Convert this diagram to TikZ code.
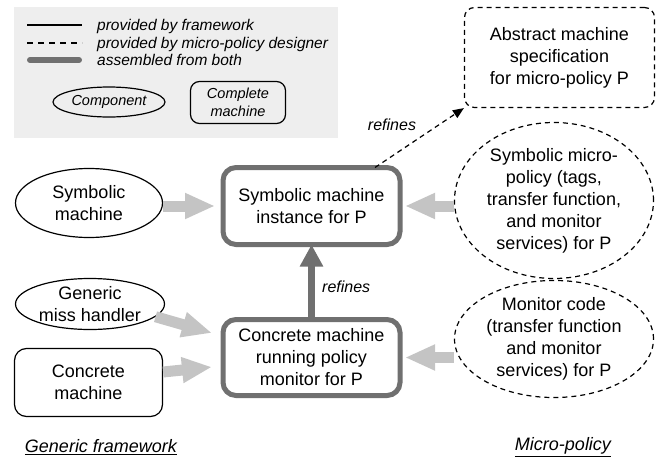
\documentclass[tikz,border=0pt]{standalone}
\usepackage{fontspec}
\newfontfamily\hv{Liberation Sans}
\usetikzlibrary{shapes.geometric,arrows.meta,calc}
\definecolor{legbg}{HTML}{EEEEEE}
\definecolor{dgray}{HTML}{707070}
\definecolor{lgray}{HTML}{C4C4C4}
\begin{document}
\begin{tikzpicture}[x=1pt,y=-1pt,
  txt/.style={font=\hv\fontsize{18}{22}\selectfont, align=center, inner sep=0pt},
  ltxt/.style={font=\hv\itshape\fontsize{15.5}{17.5}\selectfont, inner sep=0pt},
  lsmall/.style={font=\hv\itshape\fontsize{14.5}{17.5}\selectfont, inner sep=0pt, align=center},
  comp/.style={ellipse, draw, line width=1.2pt, txt},
  fwbox/.style={rectangle, rounded corners=12pt, draw, line width=1.2pt, txt},
  asmbox/.style={rectangle, rounded corners=13pt, draw=dgray, line width=5pt, fill=white, txt},
  mpdash/.style={dash pattern=on 5pt off 4pt},
  mpbox/.style={rectangle, rounded corners=10pt, draw, mpdash, line width=1.2pt, txt},
  mpell/.style={ellipse, draw, mpdash, line width=1.2pt, txt},
  feed/.style={lgray, line width=11pt, -{Triangle[width=24pt,length=30pt]}},
  refarrow/.style={dgray, line width=7pt, -{Triangle[width=22pt,length=22pt]}},
  dref/.style={black, line width=1.2pt, mpdash, -{Triangle[length=11pt,width=9pt]}},
  lbl/.style={font=\hv\itshape\fontsize{16}{19}\selectfont, inner sep=0pt},
  sect/.style={font=\hv\itshape\fontsize{18}{21}\selectfont, inner sep=0pt}
]
\useasboundingbox (0,0) rectangle (662,458);

% legend
\node[fill=legbg, inner sep=0pt, minimum width=324pt, minimum height=131pt, anchor=north west] (legend) at (14,7) {};
\coordinate (ls1) at (27,25); \coordinate (le1) at (82,25);
\coordinate (ls2) at (27,43); \coordinate (le2) at (82,43);
\coordinate (ls3) at (30,60); \coordinate (le3) at (79,60);
\draw[line width=1.2pt] (ls1) -- (le1);
\draw[line width=1.2pt, dash pattern=on 6pt off 5pt] (ls2) -- (le2);
\draw[dgray, line width=6pt, line cap=round] (ls3) -- (le3);
\node[ltxt, anchor=base west] (lt1) at (97,30) {provided by framework};
\node[ltxt, anchor=base west] (lt2) at (97,48) {provided by micro-policy designer};
\node[ltxt, anchor=base west] (lt3) at (97,65) {assembled from both};
\node[ellipse, draw, line width=1.2pt, lsmall, minimum width=112pt, minimum height=30pt] (legcomp) at (109,102) {Component};
\node[rectangle, draw, line width=1.2pt, rounded corners=9pt, lsmall, minimum width=95pt, minimum height=42pt] (legcm) at (238,102.5) {Complete\\machine};

% framework components
\node[comp, minimum width=147pt, minimum height=69pt] (symm) at (89,203) {Symbolic\\machine};
\node[comp, minimum width=149pt, minimum height=51pt] (miss) at (90,304) {Generic\\miss handler};
\node[fwbox, minimum width=148pt, minimum height=68pt] (conc) at (88.5,382.5) {Concrete\\machine};

% assembled machines
\node[asmbox, minimum width=177pt, minimum height=77pt] (inst) at (311.5,206) {Symbolic machine\\instance for P};
\node[asmbox, minimum width=177pt, minimum height=76pt] (run) at (311.5,357.5) {Concrete machine\\running policy\\monitor for P};

% micro-policy parts
\node[mpbox, minimum width=190pt, minimum height=100pt] (abs) at (559.5,57.5) {Abstract machine\\specification\\for micro-policy P};
\node[mpell, minimum width=199pt, minimum height=156pt] (symp) at (554,200.5) {Symbolic micro-\\policy (tags,\\transfer function,\\and monitor\\services) for P};
\node[mpell, minimum width=199pt, minimum height=91pt] (mon) at (554,339) {Monitor code\\(transfer function\\and monitor\\services) for P};

% feeding arrows
\draw[feed] (symm.east |- inst.west) -- ([xshift=-5.5pt]inst.west);
\draw[feed] (miss.-11) -- ([xshift=-8.5pt,yshift=24.5pt]run.west);
\draw[feed] ([yshift=10.5pt]conc.east) -- ([xshift=-8.5pt,yshift=-9.5pt]run.west);
\draw[feed] (symp.west |- inst.east) -- ([xshift=2.5pt]inst.east);
\draw[feed] (mon.west |- run.east) -- ([xshift=2.5pt]run.east);

% refinement arrows
\draw[refarrow, shorten >=-2.5pt] (run.north) -- (run.north |- inst.south);
\node[lbl, anchor=west] (ref1) at (322,287) {refines};
\draw[dref] ([xshift=63.5pt,yshift=-2.5pt]inst.north) -- (abs.south west);
\node[lbl] (ref2) at (392,125) {refines};

% section labels
\node[sect] (gf) at (101,447) {\underline{Generic framework}};
\node[sect] (mp) at (563,447) {\underline{Micro-policy}};
\end{tikzpicture}
\end{document}
